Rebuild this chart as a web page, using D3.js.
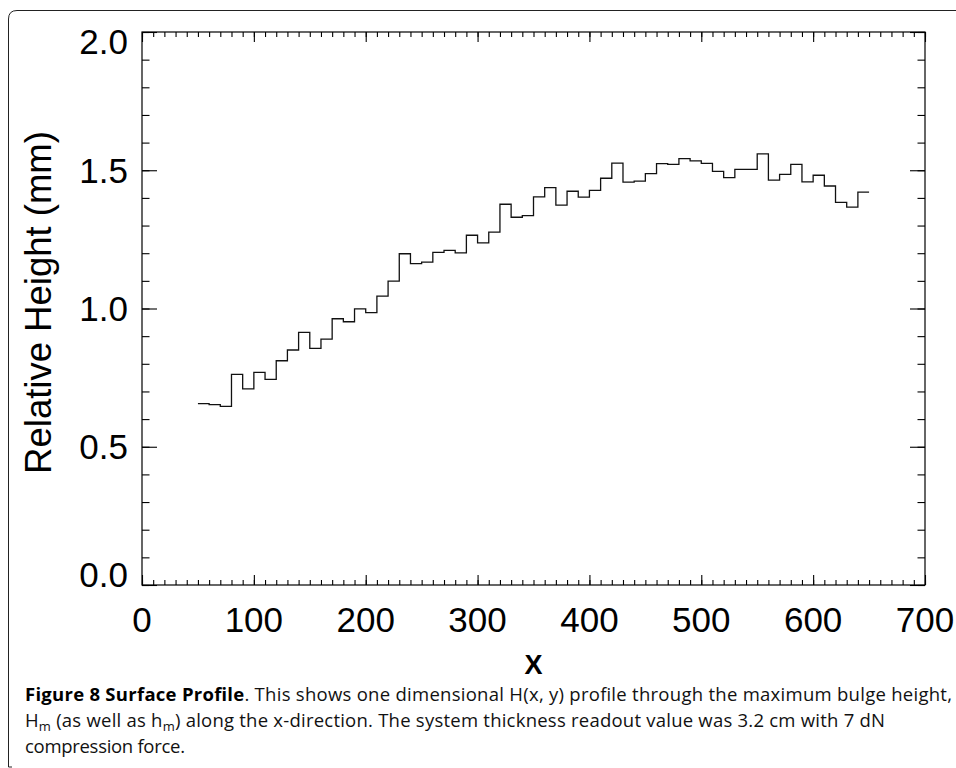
<!DOCTYPE html>
<html>
<head>
<meta charset="utf-8">
<script src="https://cdn.jsdelivr.net/npm/d3@7"></script>
<style>
  html, body { margin: 0; padding: 0; background: #fff; }
  svg { display: block; }
</style>
</head>
<body>
<svg id="chart" width="956" height="768"></svg>
<script>
// ---- data ----
const xStarts = [50,60,70,80,90,100,110,120,130,140,150,160,170,180,190,200,210,220,230,240,
                 250,260,270,280,290,300,310,320,330,340,350,360,370,380,390,400,410,420,430,440,
                 450,460,470,480,490,500,510,520,530,540,550,560,570,580,590,600,610,620,630,640];
const heights = [0.656,0.652,0.646,0.762,0.709,0.769,0.744,0.811,0.850,0.914,0.856,0.889,
                 0.963,0.952,0.999,0.985,1.045,1.099,1.198,1.162,1.168,1.203,1.210,1.201,
                 1.265,1.237,1.276,1.377,1.330,1.336,1.404,1.437,1.374,1.424,1.403,1.427,
                 1.471,1.526,1.457,1.461,1.488,1.524,1.521,1.542,1.534,1.525,1.496,1.473,
                 1.503,1.503,1.559,1.464,1.485,1.521,1.458,1.482,1.443,1.384,1.367,1.421];
const binWidth = 10;
const xTicks = [0,100,200,300,400,500,600,700];
const yTicks = [0.0,0.5,1.0,1.5,2.0];
const xTitle = "X";
const yTitle = "Relative Height (mm)";

// ---- layout ----
const svg = d3.select("#chart");
const L = 142, R = 925, T = 32, B = 585;
const x = d3.scaleLinear().domain([0,700]).range([L,R]);
const y = d3.scaleLinear().domain([0,2]).range([B,T]);
const tickFont = "'Liberation Sans', Arial, Helvetica, sans-serif";

// page border (top-left rounded)
svg.append("path")
  .attr("d","M8.5,767 L8.5,19 Q8.5,10.5 17,10.5 L956,10.5")
  .attr("fill","none").attr("stroke","#222").attr("stroke-width",1);
svg.append("path").attr("d","M8.5,767 L12,767").attr("stroke","#222").attr("fill","none");

// frame
svg.append("rect").attr("x",L).attr("y",T).attr("width",R-L).attr("height",B-T)
  .attr("fill","none").attr("stroke","#000").attr("stroke-width",1.2);

function styleAxis(g){ g.select(".domain").remove(); g.selectAll("line").attr("stroke","#000").attr("stroke-width",1.1); g.selectAll("text").remove(); }

const xMinor = x.ticks(70), yMinor = y.ticks(20);
// bottom
svg.append("g").attr("transform",`translate(0,${B})`).call(d3.axisBottom(x).tickValues(xMinor).tickSize(-5).tickFormat("")).call(styleAxis);
svg.append("g").attr("transform",`translate(0,${B})`).call(d3.axisBottom(x).tickValues(xTicks).tickSize(-10).tickFormat("")).call(styleAxis);
// top
svg.append("g").attr("transform",`translate(0,${T})`).call(d3.axisTop(x).tickValues(xMinor).tickSize(-5).tickFormat("")).call(styleAxis);
svg.append("g").attr("transform",`translate(0,${T})`).call(d3.axisTop(x).tickValues(xTicks).tickSize(-10).tickFormat("")).call(styleAxis);
// left
svg.append("g").attr("transform",`translate(${L},0)`).call(d3.axisLeft(y).tickValues(yMinor).tickSize(-7.5).tickFormat("")).call(styleAxis);
svg.append("g").attr("transform",`translate(${L},0)`).call(d3.axisLeft(y).tickValues(yTicks).tickSize(-15).tickFormat("")).call(styleAxis);
// right
svg.append("g").attr("transform",`translate(${R},0)`).call(d3.axisRight(y).tickValues(yMinor).tickSize(-7.5).tickFormat("")).call(styleAxis);
svg.append("g").attr("transform",`translate(${R},0)`).call(d3.axisRight(y).tickValues(yTicks).tickSize(-15).tickFormat("")).call(styleAxis);

// tick labels
svg.append("g").selectAll("text").data(xTicks).join("text")
  .attr("x",d=>x(d)).attr("y",632)
  .attr("text-anchor","middle")
  .attr("font-family",tickFont).attr("font-size",35).attr("fill","#000")
  .text(d=>d);
svg.append("g").selectAll("text").data(yTicks).join("text")
  .attr("x",128)
  .attr("y",d=>Math.min(Math.max(y(d),T+9),B-11)+12.5)
  .attr("text-anchor","end")
  .attr("font-family",tickFont).attr("font-size",35).attr("fill","#000")
  .text(d=>d.toFixed(1));

// axis titles
svg.append("text").attr("x",(L+R)/2).attr("y",674).attr("text-anchor","middle")
  .attr("font-family",tickFont).attr("font-weight","bold").attr("font-size",27).text(xTitle);
svg.append("text").attr("transform",`translate(51,${(T+B)/2 - 6}) rotate(-90)`)
  .attr("text-anchor","middle")
  .attr("font-family",tickFont).attr("font-size",36.5).text(yTitle);

// step line
const pts = xStarts.map((d,i)=>[d,heights[i]]);
pts.push([xStarts[xStarts.length-1]+binWidth, heights[heights.length-1]]);
const line = d3.line().x(d=>x(d[0])).y(d=>y(d[1])).curve(d3.curveStepAfter);
svg.append("path").datum(pts).attr("d",line)
  .attr("fill","none").attr("stroke","#111").attr("stroke-width",1.3);

// caption
const capFont = "'Open Sans', 'Noto Sans', sans-serif";
const capSize = 18.5, subSize = 13;
const c1 = svg.append("text").attr("x",25).attr("y",701).attr("font-family",capFont).attr("font-size",capSize).attr("fill","#111")
  .attr("textLength",927).attr("lengthAdjust","spacing");
c1.append("tspan").attr("font-weight","bold").attr("fill","#000").text("Figure 8 Surface Profile");
c1.append("tspan").text(". This shows one dimensional H(x, y) profile through the maximum bulge height,");

const c2 = svg.append("text").attr("x",25).attr("y",727).attr("font-family",capFont).attr("font-size",capSize).attr("fill","#111")
  .attr("textLength",860).attr("lengthAdjust","spacing");
c2.append("tspan").text("H");
c2.append("tspan").attr("font-size",subSize).attr("dy",4).text("m");
c2.append("tspan").attr("dy",-4).text(" (as well as h");
c2.append("tspan").attr("font-size",subSize).attr("dy",4).text("m");
c2.append("tspan").attr("dy",-4).text(") along the x-direction. The system thickness readout value was 3.2 cm with 7 dN");

svg.append("text").attr("x",25).attr("y",753).attr("font-family",capFont).attr("font-size",capSize).attr("fill","#111")
  .attr("textLength",160).attr("lengthAdjust","spacing")
  .text("compression force.");
</script>
</body>
</html>
